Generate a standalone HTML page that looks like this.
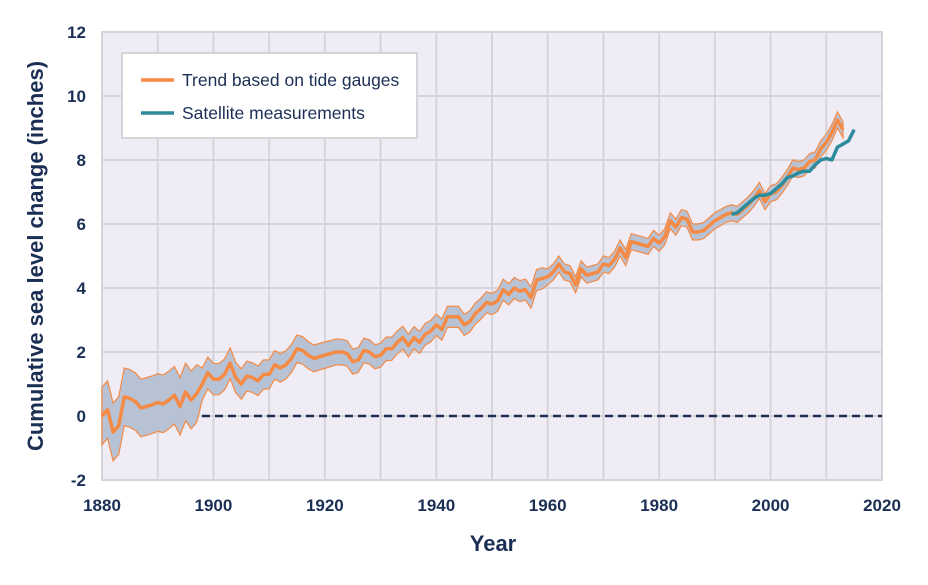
<!DOCTYPE html>
<html><head><meta charset="utf-8"><style>
html,body{margin:0;padding:0;background:#fff;}
svg text{font-family:"Liberation Sans",sans-serif;font-weight:bold;fill:#1b2f55;}
</style></head><body>
<svg id="s" width="928" height="580" xmlns="http://www.w3.org/2000/svg">
<rect x="102" y="32" width="780" height="448" fill="#efecf5" stroke="#d6d4d9" stroke-width="2"/>
<g id="grid" stroke="#d6d4d9" stroke-width="2"></g>
<path id="band" fill="#b7c3d5" stroke="#f58a44" stroke-width="1.2"/>
<line x1="202" y1="416" x2="882" y2="416" stroke="#1b2f55" stroke-width="2.5" stroke-dasharray="8,5"/>
<polyline id="orange" fill="none" stroke="#f58a44" stroke-width="3.5" stroke-linejoin="round"/>
<polyline id="teal" fill="none" stroke="#2e8b9c" stroke-width="3.5" stroke-linejoin="round"/>
<rect x="122" y="53" width="295" height="85" fill="#fff" stroke="#d6d4d9" stroke-width="2"/>
<line x1="141" y1="80" x2="174" y2="80" stroke="#f58a44" stroke-width="3.5"/>
<line x1="141" y1="113" x2="174" y2="113" stroke="#2e8b9c" stroke-width="3.5"/>
<text x="182" y="86" font-size="17.5" style="font-weight:normal">Trend based on tide gauges</text>
<text x="182" y="119" font-size="17.5" style="font-weight:normal">Satellite measurements</text>
<g id="labels" font-size="17"></g>
<text x="493" y="551" font-size="22" text-anchor="middle">Year</text>
<text transform="translate(43,256) rotate(-90)" font-size="22" text-anchor="middle">Cumulative sea level change (inches)</text>
</svg>
<script>
const X=y=>102+(y-1880)*780/140, Y=v=>416-v*32;
const g=document.getElementById('grid'),L=document.getElementById('labels');
let h='',l='';
for(let v=-2;v<=12;v+=2){h+=`<line x1="102" x2="882" y1="${Y(v)}" y2="${Y(v)}"/>`;l+=`<text x="86" y="${Y(v)+6}" text-anchor="end">${v}</text>`;}
for(let y=1880;y<=2020;y+=10){h+=`<line y1="32" y2="480" x1="${X(y)}" x2="${X(y)}"/>`;if(y%20==0)l+=`<text x="${X(y)}" y="511" text-anchor="middle">${y}</text>`;}
g.innerHTML=h;L.innerHTML=l;
const d=[0.0,0.2,-0.5,-0.3,0.6,0.55,0.45,0.25,0.3,0.35,0.42,0.38,0.5,0.65,0.3,0.75,0.5,0.7,1.0,1.35,1.15,1.15,1.3,1.65,1.2,1.0,1.25,1.2,1.1,1.3,1.3,1.6,1.5,1.6,1.8,2.1,2.05,1.9,1.8,1.85,1.9,1.95,2.0,2.0,1.95,1.7,1.75,2.05,2.0,1.85,1.9,2.1,2.1,2.3,2.45,2.2,2.45,2.3,2.55,2.65,2.85,2.7,3.1,3.1,3.1,2.85,2.95,3.2,3.35,3.55,3.5,3.6,3.95,3.8,4.0,3.9,3.95,3.7,4.25,4.3,4.35,4.5,4.75,4.5,4.45,4.1,4.6,4.4,4.45,4.5,4.75,4.7,4.9,5.25,4.95,5.45,5.4,5.35,5.3,5.55,5.4,5.6,6.1,5.9,6.2,6.15,5.75,5.75,5.8,5.95,6.1,6.2,6.3,6.35,6.3,6.45,6.6,6.8,7.05,6.7,6.95,7.0,7.2,7.45,7.75,7.7,7.75,7.95,8.0,8.35,8.55,8.85,9.25,8.95];
const hw=i=>{const y=1880+i;return y<1898?0.9:y<1940?0.5-(y-1898)*0.004:y<1960?0.33:0.25;};
let o=[],up=[],dn=[];
d.forEach((v,i)=>{o.push(X(1880+i)+','+Y(v));up.push(X(1880+i)+','+Y(v+hw(i)));dn.push(X(1880+i)+','+Y(v-hw(i)));});
document.getElementById('orange').setAttribute('points',o.join(' '));
document.getElementById('band').setAttribute('d','M'+up.join(' L')+' L'+dn.reverse().join(' L')+'Z');
const s=[6.3,6.35,6.5,6.65,6.8,6.9,6.9,6.95,7.1,7.25,7.45,7.5,7.6,7.65,7.65,7.85,8.0,8.05,8.0,8.4,8.5,8.6,8.95];
document.getElementById('teal').setAttribute('points',s.map((v,i)=>X(1993+i)+','+Y(v)).join(' '));
</script>
</body></html>
